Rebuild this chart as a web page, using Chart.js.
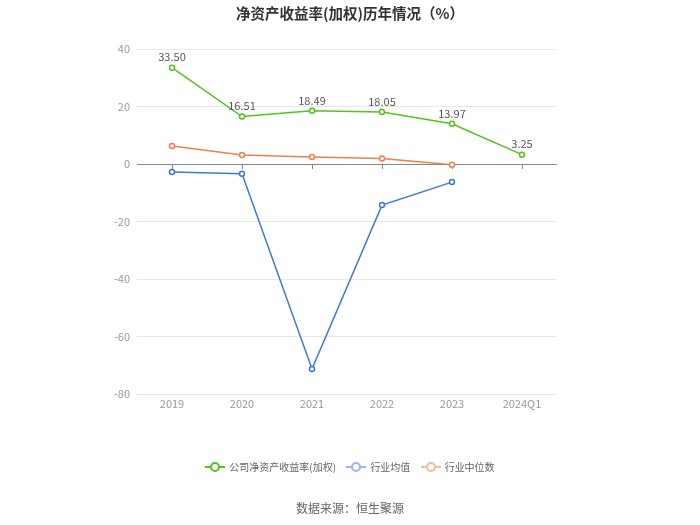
<!DOCTYPE html>
<html lang="zh">
<head>
<meta charset="UTF-8">
<title>净资产收益率(加权)历年情况</title>
<script src="https://cdn.jsdelivr.net/npm/chart.js"></script>
<style>
  body { margin: 0; background: #fff; font-family: "Noto Sans CJK SC", sans-serif; }
  #wrap { position: relative; width: 700px; height: 525px; }
  #title { position: absolute; top: 2px; left: 0; width: 700px; text-align: center; font-size: 14.5px; font-weight: bold; color: #333; }
  #legend { position: absolute; top: 459px; left: 0; width: 700px; text-align: center; font-size: 10px; color: #666; }
  #legend span.item { display: inline-block; margin: 0 4px; }
  .mk { display: inline-block; position: relative; width: 20px; height: 10px; vertical-align: -1px; margin-right: 4px; }
  .mk::before { content: ""; position: absolute; left: 0; right: 0; top: 4px; height: 2px; background: var(--c); }
  .mk::after { content: ""; position: absolute; left: 5px; top: 0; width: 6px; height: 6px; border: 2px solid var(--c); border-radius: 50%; background: #fff; }
  #source { position: absolute; top: 499px; left: 0; width: 700px; text-align: center; font-size: 12px; color: #666; }
</style>
</head>
<body>
<div id="wrap">
  <canvas id="chart" width="700" height="525"></canvas>
  <div id="title">净资产收益率(加权)历年情况（%）</div>
  <div id="legend">
    <span class="item"><span class="mk" style="--c:#52c41a"></span>公司净资产收益率(加权)</span>
    <span class="item"><span class="mk" style="--c:#9bb8ee"></span>行业均值</span>
    <span class="item"><span class="mk" style="--c:#f7b9a0"></span>行业中位数</span>
  </div>
  <div id="source">数据来源：恒生聚源</div>
</div>

<script>
const categories = ['2019', '2020', '2021', '2022', '2023', '2024Q1'];
const companyRoe = [33.50, 16.51, 18.49, 18.05, 13.97, 3.25];
const industryAvg = [-2.8, -3.4, -71.3, -14.3, -6.3, null];
const industryMedian = [6.3, 3.1, 2.4, 1.9, -0.3, null];
const yTicks = [-80, -60, -40, -20, 0, 20, 40];

const font = "'Noto Sans CJK SC', sans-serif";

// labels above the company series
const valueLabels = {
    id: 'valueLabels',
    afterDatasetsDraw(chart) {
        const ctx = chart.ctx;
        const meta = chart.getDatasetMeta(0);
        ctx.save();
        ctx.font = '11px ' + font;
        ctx.fillStyle = '#555';
        ctx.textAlign = 'center';
        ctx.textBaseline = 'bottom';
        meta.data.forEach((pt, i) => {
            ctx.fillText(companyRoe[i].toFixed(2), pt.x, pt.y - 5);
        });
        ctx.restore();
    }
};

// small ticks under the zero line at each category
const zeroTicks = {
    id: 'zeroTicks',
    beforeDatasetsDraw(chart) {
        const ctx = chart.ctx;
        const x = chart.scales.x, y = chart.scales.y;
        const y0 = y.getPixelForValue(0);
        ctx.save();
        ctx.strokeStyle = '#888';
        ctx.lineWidth = 1;
        categories.forEach((c, i) => {
            const px = Math.round(x.getPixelForValue(i)) + 0.5;
            ctx.beginPath();
            ctx.moveTo(px, y0);
            ctx.lineTo(px, y0 + 5);
            ctx.stroke();
        });
        ctx.restore();
    }
};

function series(label, data, color) {
    return {
        label: label,
        data: data,
        borderColor: color,
        backgroundColor: '#fff',
        borderWidth: 1.5,
        pointRadius: 2.5,
        pointBorderWidth: 1.5,
        pointBackgroundColor: '#fff',
        pointBorderColor: color,
        tension: 0,
        spanGaps: false,
        clip: false
    };
}

new Chart(document.getElementById('chart'), {
    type: 'line',
    data: {
        labels: categories,
        datasets: [
            series('公司净资产收益率(加权)', companyRoe, '#52c41a'),
            series('行业均值', industryAvg, '#3d78dc'),
            series('行业中位数', industryMedian, '#f47d4f')
        ]
    },
    options: {
        responsive: false,
        animation: false,
        layout: { padding: { top: 49, right: 143, bottom: 0, left: 0 } },
        plugins: {
            legend: { display: false },
            title: { display: false },
            tooltip: { enabled: false }
        },
        scales: {
            x: {
                offset: true,
                grid: { display: false, drawTicks: false, offset: true },
                border: { display: false },
                ticks: { color: '#999', font: { size: 11, family: font }, padding: 3 },
                afterFit(scale) { scale.height = 131; }
            },
            y: {
                min: -80,
                max: 40,
                afterBuildTicks(scale) { scale.ticks = yTicks.map(v => ({ value: v })); },
                grid: {
                    drawTicks: false,
                    color: ctx => ctx.tick && ctx.tick.value === 0 ? '#888' : '#e8e8e8'
                },
                border: { display: false },
                ticks: { color: '#999', font: { size: 11, family: font }, padding: 7 },
                afterFit(scale) { scale.width = 137; }
            }
        }
    },
    plugins: [zeroTicks, valueLabels]
});
</script>
</body>
</html>
